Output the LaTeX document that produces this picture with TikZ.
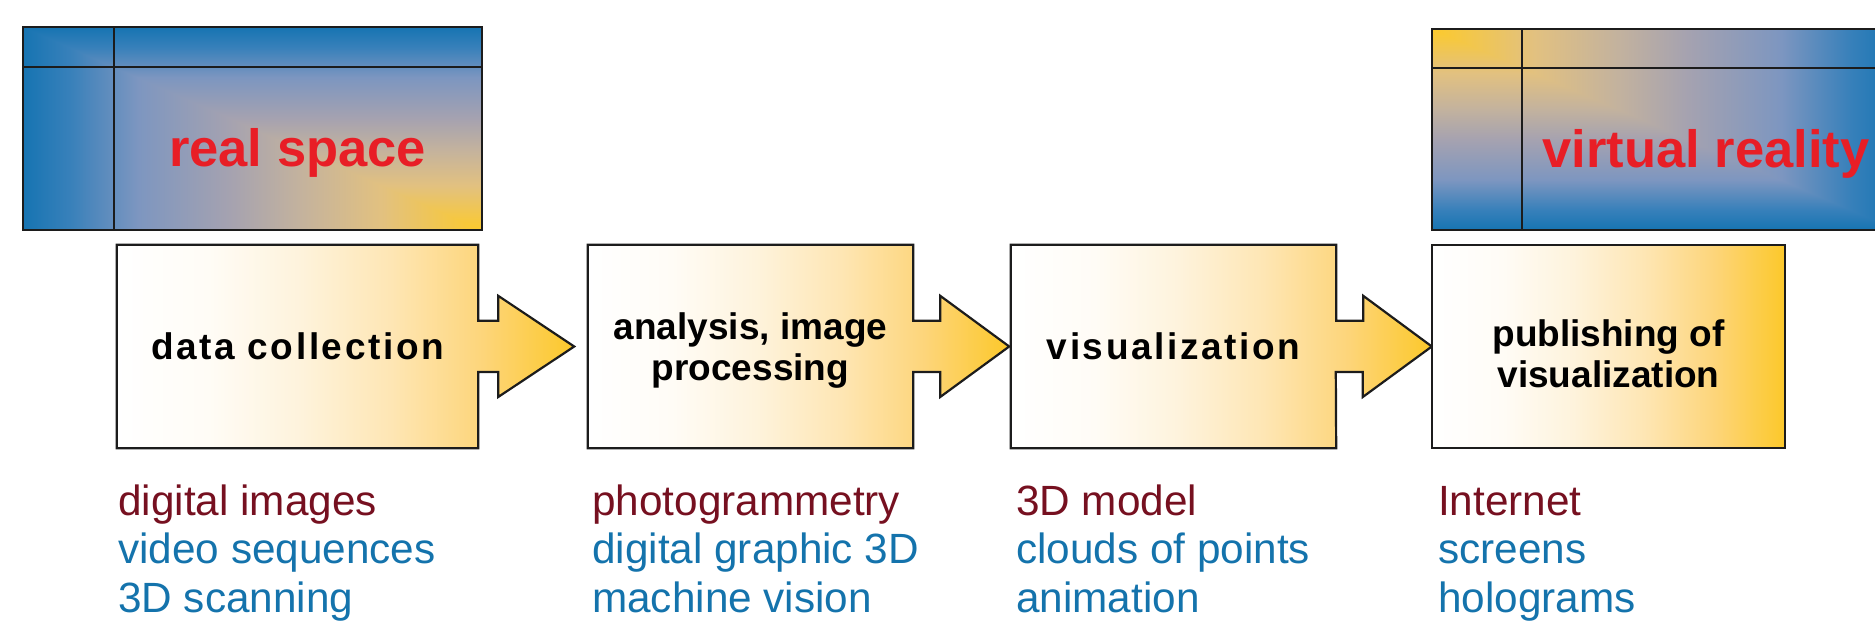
\documentclass[tikz,border=0pt]{standalone}
\usepackage{fontspec}
\setmainfont{Liberation Sans}
\newfontfamily\spacedsans{Liberation Sans}[LetterSpace=7]

% blue-to-gold ramp of the two panels
\definecolor{pa}{RGB}{22,116,178}
\definecolor{pb}{RGB}{55,128,186}
\definecolor{pc}{RGB}{125,150,192}
\definecolor{pd}{RGB}{165,162,176}
\definecolor{pe}{RGB}{195,178,158}
\definecolor{pf}{RGB}{226,193,128}
\definecolor{pg}{RGB}{252,202,44}
% white-to-gold ramp of the stages
\definecolor{scone}{RGB}{255,252,246}
\definecolor{sctwo}{RGB}{254,243,220}
\definecolor{scthree}{RGB}{254,230,180}
\definecolor{scfour}{RGB}{253,213,122}
\definecolor{stagegold}{RGB}{252,200,42}
\definecolor{titlered}{RGB}{232,30,38}
\definecolor{itemred}{RGB}{118,16,32}
\definecolor{itemblue}{RGB}{20,115,172}
\definecolor{outline}{RGB}{28,28,28}

% the path box spans 25bp..75bp of each shading
\pgfdeclarehorizontalshading{panelh}{100bp}{color(0bp)=(pa); color(25bp)=(pa); color(30bp)=(pb); color(37.5bp)=(pc); color(47.5bp)=(pd); color(55bp)=(pe); color(64bp)=(pf); color(75bp)=(pg); color(100bp)=(pg)}
\pgfdeclareverticalshading{panelv}{100bp}{color(0bp)=(pg); color(25bp)=(pg); color(36bp)=(pf); color(45bp)=(pe); color(52.5bp)=(pd); color(62.5bp)=(pc); color(70bp)=(pb); color(75bp)=(pa); color(100bp)=(pa)}
\pgfdeclarehorizontalshading{panelhr}{100bp}{color(0bp)=(pg); color(25bp)=(pg); color(36bp)=(pf); color(45bp)=(pe); color(52.5bp)=(pd); color(62.5bp)=(pc); color(70bp)=(pb); color(75bp)=(pa); color(100bp)=(pa)}
\pgfdeclareverticalshading{panelvr}{100bp}{color(0bp)=(pa); color(25bp)=(pa); color(30bp)=(pb); color(37.5bp)=(pc); color(47.5bp)=(pd); color(55bp)=(pe); color(64bp)=(pf); color(75bp)=(pg); color(100bp)=(pg)}
\pgfdeclarehorizontalshading{stagefill}{100bp}{color(0bp)=(white); color(25bp)=(white); color(35bp)=(scone); color(45bp)=(sctwo); color(55bp)=(scthree); color(65bp)=(scfour); color(75bp)=(stagegold); color(100bp)=(stagegold)}

\begin{document}
\begin{tikzpicture}[x=1pt,y=1pt,
  stage/.style={rectangle, inner sep=0pt, minimum height=203pt, minimum width=#1},
  stagetext/.style={inner sep=0pt, align=center, font=\bfseries\fontsize{37}{41}\selectfont},
  spaced/.style={font=\spacedsans\bfseries\fontsize{37}{41}\selectfont},
  stageshape/.style={draw=outline, line width=2.2pt, line join=miter, shading=stagefill},
  panel/.style={rectangle, inner sep=0pt, minimum width=#1, minimum height=203pt},
  panelline/.style={draw=outline, line width=2.2pt},
  paneltitle/.style={anchor=base, inner sep=0pt, text=titlered,
    font=\bfseries\fontsize{52.5}{60}\selectfont},
  item/.style={anchor=base west, inner sep=0pt, font=\fontsize{42.3}{48}\selectfont},
  itemhead/.style={item, text=itemred},
  itemsub/.style={item, text=itemblue}]

\path[use as bounding box] (0,0) rectangle (1875,-631);
\clip (0,0) rectangle (1875,-631);

% ---- top panels ----
\node[panel=459pt] (rs) at (252.5,-128.5) {};
\shade[shading=panelh] (rs.north west) rectangle (rs.south east);
\shade[shading=panelv] (rs.north west) -- (rs.north east) -- (rs.south east) -- cycle;
\draw[panelline] ([yshift=-40pt]rs.north west) -- ([yshift=-40pt]rs.north east);
\draw[panelline] ([xshift=91pt]rs.north west) -- ([xshift=91pt]rs.south west);
\draw[panelline] (rs.north west) rectangle (rs.south east);
\node[paneltitle] (rst) at (297.5,-167) {real space};

\node[panel=465pt, minimum height=201pt] (vr) at (1664.5,-129.5) {};
\shade[shading=panelvr] (vr.north west) rectangle (vr.south east);
\shade[shading=panelhr] (vr.north west) -- (vr.north east) -- (vr.south east) -- cycle;
\draw[panelline] ([yshift=-39pt]vr.north west) -- ([yshift=-39pt]vr.north east);
\draw[panelline] ([xshift=90pt]vr.north west) -- ([xshift=90pt]vr.south west);
\draw[panelline] (vr.north west) rectangle (vr.south east);
\node[paneltitle] (vrt) at (1706,-168) {virtual reality};

% ---- process stages ----
\node[stage=361pt] (s1) at (297.5,-346.5) {};
\node[stage=325pt] (s2) at (750.5,-346.5) {};
\node[stage=325pt] (s3) at (1173.5,-346.5) {};
\node[stage=353pt] (s4) at (1608.5,-346.5) {};

\shade[stageshape] (s1.north west) -- (s1.north east) -- ++(0,-76) -- ++(20,0) -- ++(0,25)
  -- ([xshift=96pt]s1.east) -- ++(-76,-50.5) -- ++(0,25) -- ++(-20,0)
  -- (s1.south east) -- (s1.south west) -- cycle;
\shade[stageshape] (s2.north west) -- (s2.north east) -- ++(0,-76) -- ++(27,0) -- ++(0,25)
  -- ([xshift=96pt]s2.east) -- ++(-69,-50.5) -- ++(0,25) -- ++(-27,0)
  -- (s2.south east) -- (s2.south west) -- cycle;
\shade[stageshape] (s3.north west) -- (s3.north east) -- ++(0,-76) -- ++(27,0) -- ++(0,25)
  -- (s4.west) -- ++(-69,-50.5) -- ++(0,25) -- ++(-27,0)
  -- (s3.south east) -- (s3.south west) -- cycle;
\shade[stageshape] (s4.north west) rectangle (s4.south east);

\node[stagetext, spaced] (t1) at (s1.center) {data collection};
\node[stagetext, yshift=-4pt] (t2) at (s2.center) {analysis, image\\processing};
\node[stagetext, spaced] (t3) at (s3.center) {visualization};
\node[stagetext, yshift=-7pt] (t4) at (s4.center) {publishing of\\visualization};

% ---- item lists ----
\node[itemhead] (i11) at (118,-515) {digital images};
\node[itemsub]  (i12) at (118,-563) {video sequences};
\node[itemsub]  (i13) at (118,-612) {3D scanning};

\node[itemhead] (i21) at (592,-515) {photogrammetry};
\node[itemsub]  (i22) at (592,-563) {digital graphic 3D};
\node[itemsub]  (i23) at (592,-612) {machine vision};

\node[itemhead] (i31) at (1016,-515) {3D model};
\node[itemsub]  (i32) at (1016,-563) {clouds of points};
\node[itemsub]  (i33) at (1016,-612) {animation};

\node[itemhead] (i41) at (1438,-515) {Internet};
\node[itemsub]  (i42) at (1438,-563) {screens};
\node[itemsub]  (i43) at (1438,-612) {holograms};
\end{tikzpicture}
\end{document}
